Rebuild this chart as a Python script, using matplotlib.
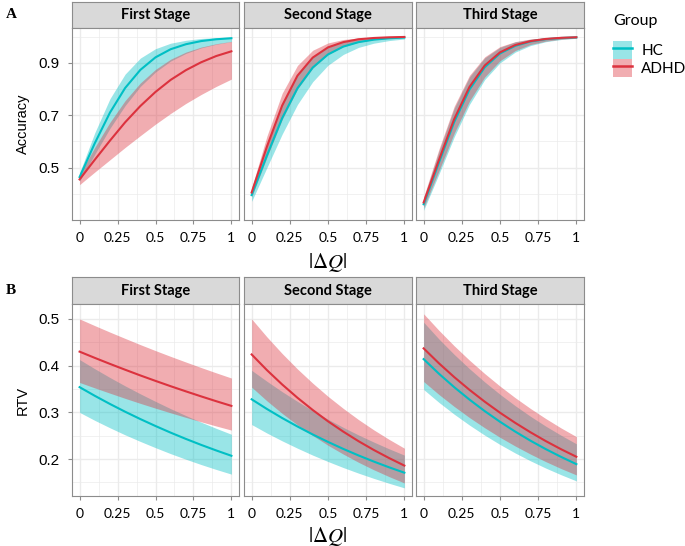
import matplotlib
matplotlib.use("Agg")
import matplotlib.pyplot as plt
from matplotlib.patches import Patch
from matplotlib.lines import Line2D

plt.rcParams['mathtext.fontset'] = 'stix'
plt.rcParams['font.family'] = 'Liberation Sans'

# |dQ| sample points
dq = [0.0, 0.1, 0.2, 0.3, 0.4, 0.5, 0.6, 0.7, 0.8, 0.9, 1.0]
stages = ["First Stage", "Second Stage", "Third Stage"]
groups = ["HC", "ADHD"]

# Accuracy: fit, lower, upper for each stage and group
acc_hc_1 = [0.464, 0.593, 0.710, 0.804, 0.873, 0.921, 0.952, 0.971, 0.983, 0.990, 0.994]
acc_hc_1_lo = [0.448, 0.551, 0.650, 0.737, 0.810, 0.865, 0.907, 0.936, 0.957, 0.971, 0.981]
acc_hc_1_hi = [0.480, 0.633, 0.763, 0.857, 0.918, 0.954, 0.975, 0.986, 0.993, 0.996, 0.998]
acc_adhd_1 = [0.455, 0.530, 0.603, 0.673, 0.735, 0.789, 0.835, 0.872, 0.902, 0.926, 0.944]
acc_adhd_1_lo = [0.435, 0.483, 0.530, 0.577, 0.622, 0.666, 0.707, 0.745, 0.779, 0.810, 0.838]
acc_adhd_1_hi = [0.475, 0.577, 0.673, 0.756, 0.823, 0.875, 0.914, 0.941, 0.960, 0.973, 0.982]

acc_hc_2 = [0.395, 0.546, 0.689, 0.803, 0.882, 0.932, 0.962, 0.979, 0.9885, 0.9937, 0.9966]
acc_hc_2_lo = [0.371, 0.500, 0.628, 0.741, 0.828, 0.891, 0.932, 0.959, 0.975, 0.985, 0.991]
acc_hc_2_hi = [0.419, 0.591, 0.743, 0.853, 0.921, 0.959, 0.979, 0.989, 0.9947, 0.9973, 0.9987]
acc_adhd_2 = [0.405, 0.580, 0.737, 0.851, 0.920, 0.959, 0.979, 0.990, 0.9949, 0.9975, 0.9988]
acc_adhd_2_lo = [0.388, 0.539, 0.684, 0.800, 0.880, 0.932, 0.962, 0.979, 0.9884, 0.9937, 0.9966]
acc_adhd_2_hi = [0.422, 0.620, 0.784, 0.890, 0.948, 0.976, 0.989, 0.995, 0.9978, 0.999, 0.9996]

acc_hc_3 = [0.360, 0.519, 0.674, 0.798, 0.883, 0.936, 0.965, 0.9816, 0.9903, 0.9949, 0.9973]
acc_hc_3_lo = [0.337, 0.475, 0.617, 0.741, 0.836, 0.900, 0.941, 0.966, 0.9807, 0.989, 0.9938]
acc_hc_3_hi = [0.383, 0.562, 0.726, 0.846, 0.919, 0.959, 0.980, 0.990, 0.9952, 0.9976, 0.9989]
acc_adhd_3 = [0.367, 0.529, 0.685, 0.808, 0.890, 0.940, 0.968, 0.983, 0.9913, 0.9955, 0.9977]
acc_adhd_3_lo = [0.346, 0.4875, 0.631, 0.754, 0.846, 0.908, 0.947, 0.970, 0.9828, 0.9903, 0.9946]
acc_adhd_3_hi = [0.388, 0.570, 0.734, 0.852, 0.923, 0.962, 0.981, 0.991, 0.9956, 0.9979, 0.999]

# RTV
rtv_hc_1 = [0.354, 0.3355, 0.318, 0.3014, 0.2857, 0.2708, 0.2566, 0.2432, 0.2305, 0.2185, 0.2071]
rtv_hc_1_lo = [0.300, 0.2829, 0.2670, 0.2519, 0.2378, 0.2244, 0.2116, 0.1997, 0.1884, 0.1778, 0.1678]
rtv_hc_1_hi = [0.413, 0.3934, 0.3746, 0.3567, 0.3397, 0.3235, 0.3079, 0.2932, 0.2791, 0.2658, 0.2531]
rtv_adhd_1 = [0.430, 0.4167, 0.4038, 0.3913, 0.3791, 0.3674, 0.3560, 0.3450, 0.3343, 0.3239, 0.3139]
rtv_adhd_1_lo = [0.364, 0.3524, 0.3411, 0.3300, 0.3193, 0.3090, 0.2990, 0.2893, 0.2799, 0.2708, 0.2621]
rtv_adhd_1_hi = [0.500, 0.4857, 0.4718, 0.4583, 0.4450, 0.4322, 0.4198, 0.4078, 0.3960, 0.3846, 0.3735]

rtv_hc_2 = [0.328, 0.3073, 0.2879, 0.2698, 0.2527, 0.2368, 0.2218, 0.2078, 0.1947, 0.1824, 0.1709]
rtv_hc_2_lo = [0.274, 0.2558, 0.2390, 0.2233, 0.2085, 0.1948, 0.1819, 0.1699, 0.1587, 0.1482, 0.1384]
rtv_hc_2_hi = [0.390, 0.3666, 0.3443, 0.3235, 0.3037, 0.2853, 0.2679, 0.2516, 0.2364, 0.2220, 0.2085]
rtv_adhd_2 = [0.424, 0.3905, 0.3597, 0.3313, 0.3051, 0.2809, 0.2588, 0.2383, 0.2195, 0.2022, 0.1861]
rtv_adhd_2_lo = [0.354, 0.3247, 0.2978, 0.2732, 0.2505, 0.2296, 0.2107, 0.1931, 0.1771, 0.1625, 0.1489]
rtv_adhd_2_hi = [0.500, 0.4616, 0.4259, 0.3929, 0.3625, 0.3343, 0.3085, 0.2845, 0.2625, 0.2422, 0.2233]

rtv_hc_3 = [0.414, 0.3828, 0.3540, 0.3274, 0.3027, 0.2799, 0.2588, 0.2393, 0.2213, 0.2047, 0.1892]
rtv_hc_3_lo = [0.349, 0.3214, 0.2961, 0.2728, 0.2512, 0.2313, 0.2130, 0.1962, 0.1807, 0.1665, 0.1533]
rtv_hc_3_hi = [0.493, 0.4571, 0.4241, 0.3935, 0.3651, 0.3387, 0.3142, 0.2915, 0.2704, 0.2510, 0.2327]
rtv_adhd_3 = [0.437, 0.4051, 0.3756, 0.3483, 0.3229, 0.2993, 0.2775, 0.2573, 0.2385, 0.2211, 0.2050]
rtv_adhd_3_lo = [0.366, 0.3383, 0.3127, 0.2889, 0.2670, 0.2466, 0.2279, 0.2106, 0.1945, 0.1797, 0.1661]
rtv_adhd_3_hi = [0.511, 0.4756, 0.4425, 0.4117, 0.3830, 0.3562, 0.3313, 0.3082, 0.2867, 0.2666, 0.2481]

accuracy = [
    [(acc_hc_1, acc_hc_1_lo, acc_hc_1_hi), (acc_adhd_1, acc_adhd_1_lo, acc_adhd_1_hi)],
    [(acc_hc_2, acc_hc_2_lo, acc_hc_2_hi), (acc_adhd_2, acc_adhd_2_lo, acc_adhd_2_hi)],
    [(acc_hc_3, acc_hc_3_lo, acc_hc_3_hi), (acc_adhd_3, acc_adhd_3_lo, acc_adhd_3_hi)],
]
rtv = [
    [(rtv_hc_1, rtv_hc_1_lo, rtv_hc_1_hi), (rtv_adhd_1, rtv_adhd_1_lo, rtv_adhd_1_hi)],
    [(rtv_hc_2, rtv_hc_2_lo, rtv_hc_2_hi), (rtv_adhd_2, rtv_adhd_2_lo, rtv_adhd_2_hi)],
    [(rtv_hc_3, rtv_hc_3_lo, rtv_hc_3_hi), (rtv_adhd_3, rtv_adhd_3_lo, rtv_adhd_3_hi)],
]

x_ticks = [0, 0.25, 0.5, 0.75, 1]
x_ticklabels = ["0", "0.25", "0.5", "0.75", "1"]
x_minor = [0.125, 0.375, 0.625, 0.875]
acc_ticks = [0.5, 0.7, 0.9]
acc_minor = [0.4, 0.6, 0.8, 1.0]
rtv_ticks = [0.2, 0.3, 0.4, 0.5]
rtv_minor = [0.15, 0.25, 0.35, 0.45]

colors = {"HC": "#00BFC4", "ADHD": "#DC323E"}
border = "#8C8C8C"
grid_col = "#EBEBEB"

W, H = 685, 546
fig = plt.figure(figsize=(W / 100, H / 100), dpi=100)


def rect(x0, y0, x1, y1):
    return [x0 / W, 1 - y1 / H, (x1 - x0) / W, (y1 - y0) / H]


cols_px = [(72, 239), (244, 412), (416, 584)]


def draw_row(data, strip_y, plot_y, ylim, yticks, yminor, ylabel):
    for i, (x0, x1) in enumerate(cols_px):
        sax = fig.add_axes(rect(x0, strip_y[0], x1, strip_y[1]))
        sax.set_facecolor("#D9D9D9")
        sax.set_xticks([])
        sax.set_yticks([])
        for s in sax.spines.values():
            s.set_color(border)
            s.set_linewidth(0.8)
        sax.text(0.5, 0.5, stages[i], ha="center", va="center", fontsize=10.5,
                 fontweight="bold", family="Lato", transform=sax.transAxes)

        ax = fig.add_axes(rect(x0, plot_y[0], x1, plot_y[1]))
        for g, (fit, lo, hi) in zip(groups, data[i]):
            ax.fill_between(dq, lo, hi, color=colors[g], alpha=0.4, linewidth=0)
            ax.plot(dq, fit, color=colors[g], linewidth=1.5)
        ax.set_xlim(-0.05, 1.05)
        ax.set_ylim(*ylim)
        ax.set_xticks(x_ticks)
        ax.set_xticks(x_minor, minor=True)
        ax.set_xticklabels(x_ticklabels, family="Lato", fontsize=10)
        ax.set_yticks(yticks)
        ax.set_yticks(yminor, minor=True)
        ax.set_yticklabels([f"{v:g}" for v in yticks], family="Liberation Sans", fontsize=11)
        ax.grid(which="major", color=grid_col, linewidth=1.0)
        ax.grid(which="minor", color=grid_col, linewidth=0.5)
        ax.set_axisbelow(True)
        ax.tick_params(which="major", length=3, color=border, pad=6)
        ax.tick_params(which="minor", length=0)
        for s in ax.spines.values():
            s.set_color(border)
            s.set_linewidth(0.8)
        if i == 0:
            ax.set_ylabel(ylabel, family="Liberation Sans", fontsize=10.5, labelpad=6)
        else:
            ax.tick_params(axis="y", left=False, labelleft=False)


draw_row(accuracy, (2, 28), (28, 220), (0.30, 1.033), acc_ticks, acc_minor, "Accuracy")
draw_row(rtv, (277, 304), (304, 496), (0.121, 0.532), rtv_ticks, rtv_minor, "RTV")

fig.text(328 / W, 1 - 262 / H, r"$|\Delta Q|$", ha="center", va="center", fontsize=15)
fig.text(328 / W, 1 - 536 / H, r"$|\Delta Q|$", ha="center", va="center", fontsize=15)

fig.text(6 / W, 1 - 14 / H, "A", family="Liberation Serif", fontweight="bold",
         fontsize=11, ha="left", va="center")
fig.text(6 / W, 1 - 290 / H, "B", family="Liberation Serif", fontweight="bold",
         fontsize=11, ha="left", va="center")

handles = [(Patch(facecolor=colors[g], alpha=0.4, linewidth=0),
            Line2D([], [], color=colors[g], linewidth=1.8)) for g in groups]
leg = fig.legend(handles, groups, loc="upper left", bbox_to_anchor=(613 / W, 1 - 14 / H),
                 frameon=False, title="Group", alignment="left",
                 prop={"family": "Lato", "size": 11},
                 title_fontproperties={"family": "Lato", "size": 11.5},
                 handlelength=1.25, handleheight=1.45, labelspacing=0.0,
                 handletextpad=0.6, borderaxespad=0, borderpad=0)
leg._legend_box.sep = 9

fig.savefig("out.png", dpi=100)
